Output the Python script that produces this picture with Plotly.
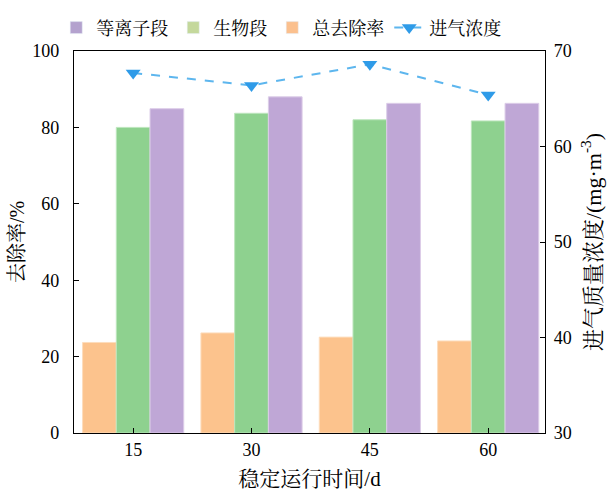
import plotly.graph_objects as go

# Stable-operation days
days = [15, 30, 45, 60]

# Removal efficiency (%) per stage
total_removal = [23.7, 26.2, 25.1, 24.1]      # 总去除率
bio_stage = [80.0, 83.7, 82.0, 81.7]          # 生物段
plasma_stage = [84.9, 88.0, 86.3, 86.3]       # 等离子段

# Inlet mass concentration (mg·m^-3)
inlet_conc = [67.7, 66.4, 68.6, 65.4]         # 进气浓度

left_ticks = [0, 20, 40, 60, 80, 100]
right_ticks = [30, 40, 50, 60, 70]

FONT = "Liberation Serif, Noto Serif CJK SC, Noto Sans CJK SC, serif"

bar_colors = {"总去除率": "#FCC38D", "生物段": "#8ED18F", "等离子段": "#BFA7D6"}
edge_colors = {"总去除率": "#FDDDBD", "生物段": "#BDE6BD", "等离子段": "#DCCDE8"}
legend_colors = {"等离子段": "#B4A2CE", "生物段": "#C4D89C", "总去除率": "#FBC08E"}

fig = go.Figure()

for name, vals in [("总去除率", total_removal), ("生物段", bio_stage), ("等离子段", plasma_stage)]:
    fig.add_trace(go.Bar(
        x=days, y=vals, name=name, showlegend=False,
        marker=dict(color=bar_colors[name],
                    line=dict(color=edge_colors[name], width=1)),
    ))

# Legend swatches drawn on hidden axes so they do not affect bar grouping
for rank, name in enumerate(["等离子段", "生物段", "总去除率"]):
    fig.add_trace(go.Bar(
        x=[None], y=[None], name=name, legendrank=rank + 1,
        marker=dict(color=legend_colors[name]),
        xaxis="x2", yaxis="y3",
    ))

fig.add_trace(go.Scatter(
    x=days, y=inlet_conc, name="进气浓度", yaxis="y2", legendrank=4,
    mode="lines+markers",
    line=dict(color="#5DB6EE", width=2, dash="dash"),
    marker=dict(symbol="triangle-down", size=13, color="#2F9BE8"),
))

axis_common = dict(
    showline=True, linecolor="black", linewidth=1.2,
    ticks="inside", ticklen=5, tickcolor="black",
    showgrid=False, zeroline=False, automargin=False,
    tickfont=dict(family=FONT, size=18, color="black"),
)

fig.update_layout(
    width=610, height=491,
    margin=dict(l=74, r=65, t=51, b=58, autoexpand=False),
    paper_bgcolor="white", plot_bgcolor="white",
    barmode="group", bargap=0.145, bargroupgap=0,
    font=dict(family=FONT, size=18, color="black"),
    legend=dict(orientation="h", x=0.44, xanchor="center", y=1.012, yanchor="bottom",
                font=dict(family=FONT, size=18, color="black"),
                itemwidth=30, tracegroupgap=0, bgcolor="rgba(0,0,0,0)"),
    xaxis=dict(
        range=[7.5, 67.2], tickvals=days, ticktext=[str(d) for d in days],
        mirror=True,
        title=dict(text="稳定运行时间/d", font=dict(family=FONT, size=21), standoff=17),
        **axis_common,
    ),
    yaxis=dict(
        range=[0, 100], tickvals=left_ticks, ticklabelstandoff=10,
        title=dict(text="去除率/%", font=dict(family=FONT, size=20), standoff=2),
        **axis_common,
    ),
    yaxis2=dict(
        range=[30, 70], tickvals=right_ticks, overlaying="y", side="right",
        ticklabelstandoff=4,
        title=dict(text="进气质量浓度/(mg·m<sup>-3</sup>)", font=dict(family=FONT, size=22), standoff=14),
        **axis_common,
    ),
    xaxis2=dict(overlaying="x", visible=False, range=[0, 1]),
    yaxis3=dict(overlaying="y", visible=False, range=[0, 1]),
)

fig.write_html("out.html")
